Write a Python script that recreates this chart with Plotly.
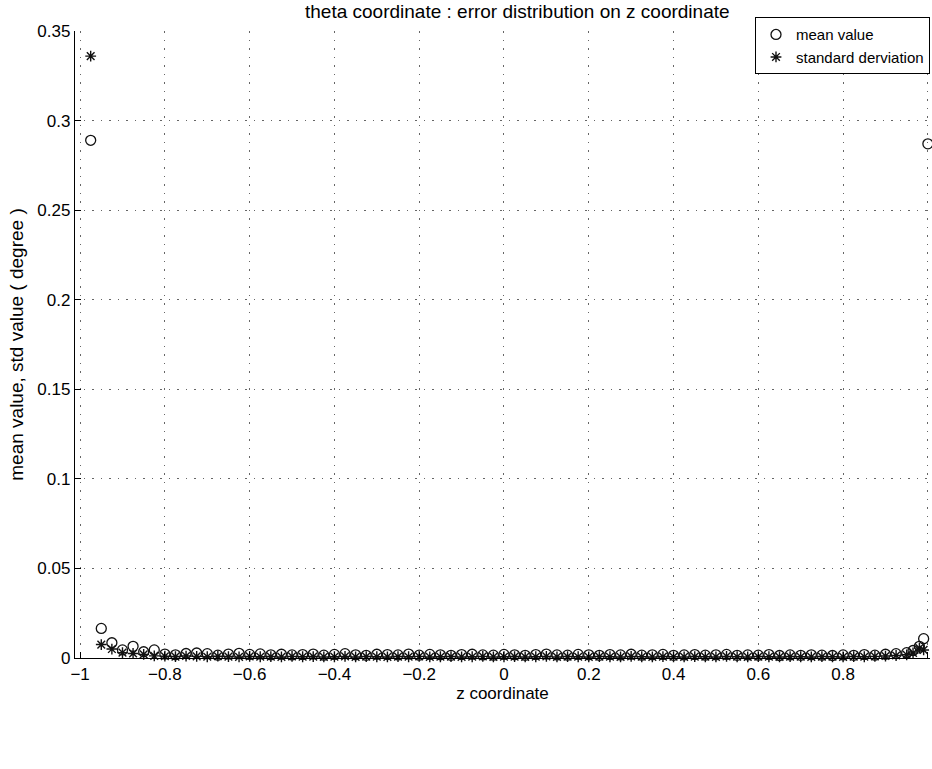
import plotly.graph_objects as go

# z sample positions
z = [-0.975, -0.95, -0.925, -0.9, -0.875, -0.85, -0.825, -0.8, -0.775, -0.75,
     -0.725, -0.7, -0.675, -0.65, -0.625, -0.6, -0.575, -0.55, -0.525, -0.5,
     -0.475, -0.45, -0.425, -0.4, -0.375, -0.35, -0.325, -0.3, -0.275, -0.25,
     -0.225, -0.2, -0.175, -0.15, -0.125, -0.1, -0.075, -0.05, -0.025, 0.0,
     0.025, 0.05, 0.075, 0.1, 0.125, 0.15, 0.175, 0.2, 0.225, 0.25,
     0.275, 0.3, 0.325, 0.35, 0.375, 0.4, 0.425, 0.45, 0.475, 0.5,
     0.525, 0.55, 0.575, 0.6, 0.625, 0.65, 0.675, 0.7, 0.725, 0.75,
     0.775, 0.8, 0.825, 0.85, 0.875, 0.9, 0.925, 0.95, 0.965, 0.98,
     0.99, 1.0]

# mean error (degree)
mean_vals = [0.289, 0.0165, 0.0085, 0.0045, 0.0065, 0.0035, 0.0045, 0.0022, 0.0018, 0.0025,
             0.0028, 0.0024, 0.0016, 0.0022, 0.0026, 0.0020, 0.0023, 0.0018, 0.0021, 0.0017,
             0.0019, 0.0022, 0.0016, 0.0020, 0.0024, 0.0018, 0.0015, 0.0021, 0.0019, 0.0017,
             0.0022, 0.0016, 0.0020, 0.0018, 0.0015, 0.0019, 0.0021, 0.0017, 0.0016, 0.0020,
             0.0018, 0.0015, 0.0019, 0.0022, 0.0017, 0.0016, 0.0020, 0.0018, 0.0015, 0.0019,
             0.0017, 0.0021, 0.0016, 0.0018, 0.0020, 0.0015, 0.0017, 0.0019, 0.0016, 0.0018,
             0.0020, 0.0015, 0.0017, 0.0016, 0.0019, 0.0014, 0.0017, 0.0015, 0.0018, 0.0016,
             0.0014, 0.0017, 0.0015, 0.0019, 0.0016, 0.0021, 0.0024, 0.0030, 0.0042, 0.0065,
             0.0108, 0.287]

# standard deviation (degree); no visible value at z = 1
std_vals = [0.336, 0.0075, 0.0050, 0.0030, 0.0025, 0.0020, 0.0012, 0.0010, 0.0008, 0.0011,
            0.0009, 0.0007, 0.0010, 0.0008, 0.0006, 0.0009, 0.0007, 0.0008, 0.0006, 0.0009,
            0.0007, 0.0008, 0.0006, 0.0007, 0.0009, 0.0006, 0.0008, 0.0007, 0.0006, 0.0008,
            0.0007, 0.0009, 0.0006, 0.0007, 0.0008, 0.0006, 0.0007, 0.0009, 0.0006, 0.0007,
            0.0008, 0.0006, 0.0007, 0.0009, 0.0006, 0.0008, 0.0007, 0.0006, 0.0008, 0.0007,
            0.0006, 0.0009, 0.0007, 0.0006, 0.0008, 0.0007, 0.0006, 0.0008, 0.0007, 0.0006,
            0.0009, 0.0007, 0.0006, 0.0008, 0.0007, 0.0006, 0.0008, 0.0007, 0.0006, 0.0008,
            0.0007, 0.0006, 0.0008, 0.0007, 0.0009, 0.0011, 0.0014, 0.0018, 0.0028, 0.0055,
            0.0045, None]

x_ticks = [-1, -0.8, -0.6, -0.4, -0.2, 0, 0.2, 0.4, 0.6, 0.8, 1]
y_ticks = [0, 0.05, 0.1, 0.15, 0.2, 0.25, 0.3, 0.35]

FONT = "Liberation Sans, Arial, Helvetica, sans-serif"
INK = "#111111"

fig = go.Figure()
fig.add_trace(go.Scatter(
    x=z, y=mean_vals, mode="markers", name="mean value", cliponaxis=False,
    marker=dict(symbol="circle-open", size=10, color=INK, line=dict(width=1.3, color=INK)),
))
fig.add_trace(go.Scatter(
    x=z, y=std_vals, mode="markers", name="standard derviation", cliponaxis=False,
    marker=dict(symbol="asterisk-open", size=9, color=INK, line=dict(width=1.4, color=INK)),
))

axis_common = dict(
    showgrid=True, gridcolor="#666666", gridwidth=1, griddash="1.5px,7px",
    zeroline=False, showline=True, linecolor="black", linewidth=1.3,
    ticks="inside", ticklen=6, tickcolor="black", tickwidth=1.2,
    mirror=False, tickfont=dict(family=FONT, size=17, color="black"),
)

fig.update_layout(
    width=932, height=769,
    margin=dict(l=75, r=2, t=31, b=111),
    paper_bgcolor="white", plot_bgcolor="white",
    font=dict(family=FONT, size=17, color="black"),
    title=dict(text="theta coordinate : error distribution on z coordinate",
               x=0.555, xanchor="center", y=0.985, yanchor="middle",
               font=dict(family=FONT, size=19, color="black")),
    xaxis=dict(axis_common, range=[-1.012, 1.005], tickvals=x_ticks,
               title=dict(text="z coordinate", standoff=2,
                          font=dict(family=FONT, size=17, color="black"))),
    yaxis=dict(axis_common, range=[0, 0.35], tickvals=y_ticks,
               title=dict(text="mean value, std value ( degree )", standoff=8,
                          font=dict(family=FONT, size=19, color="black"))),
    legend=dict(x=1.0, xanchor="right", y=1.022, yanchor="top",
                bgcolor="white", bordercolor="black", borderwidth=1,
                font=dict(family=FONT, size=15, color="black"),
                itemwidth=30, tracegroupgap=0),
    showlegend=True,
)

fig.write_html("out.html")
